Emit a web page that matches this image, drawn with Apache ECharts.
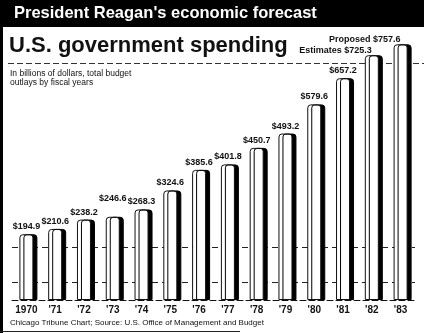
<!DOCTYPE html>
<html><head><meta charset="utf-8">
<script src="https://cdn.jsdelivr.net/npm/echarts@6/dist/echarts.min.js"></script>
<style>html,body{margin:0;padding:0;background:#fff}#c{width:424px;height:333px}</style>
</head><body><div id="c"></div>
<script>
// ---- data ----
const years = ['1970', "'71", "'72", "'73", "'74", "'75", "'76", "'77", "'78", "'79", "'80", "'81", "'82", "'83"];
const outlays = [194.9, 210.6, 238.2, 246.6, 268.3, 324.6, 385.6, 401.8, 450.7, 493.2, 579.6, 657.2, 725.3, 757.6];
const labelPrefixes = ['', '', '', '', '', '', '', '', '', '', '', '', 'Estimates ', 'Proposed '];
const titleText = 'U.S. government spending';
const bannerText = "President Reagan's economic forecast";
const subtitleLines = ['In billions of dollars, total budget', 'outlays by fiscal years'];
const footerText = 'Chicago Tribune Chart; Source: U.S. Office of Management and Budget';

// ---- layout-only tweaks for label placement ----
const labelShiftX = [-4, -2, -1.5, -5, 1.5, -4, 1, 3, 0, 1, 0, -2, 11, 12];
const labelGap = [3, 3, 3, 14, 3, 3, 3, 3, 3, 3, 3, 3, 0, 0];
const rightAligned = [false, false, false, false, false, false, false, false, false, false, false, false, true, true];

const FONT = '"Liberation Sans", Arial, Helvetica, sans-serif';

const chart = echarts.init(document.getElementById('c'), null, {renderer: 'canvas'});

const barData = outlays.map((v, i) => ({
  value: v,
  label: rightAligned[i]
    ? {align: 'right', offset: [labelShiftX[i], 0], distance: labelGap[i]}
    : {offset: [labelShiftX[i], 0], distance: labelGap[i]}
}));

chart.setOption({
  animation: false,
  backgroundColor: '#ffffff',
  grid: {left: 12, right: 9, top: 30, bottom: 33, containLabel: false},
  xAxis: {
    type: 'category',
    data: years,
    axisLine: {show: true, lineStyle: {color: '#111', width: 1, type: [6, 3]}},
    axisTick: {show: false},
    axisLabel: {interval: 0, color: '#111', fontSize: 10, fontWeight: 'bold', fontFamily: FONT, margin: 5}
  },
  yAxis: {
    type: 'value', min: 0, max: 800, show: false,
    splitLine: {show: false}
  },
  series: [{
    type: 'bar',
    data: barData,
    barWidth: 14,
    itemStyle: {
      color: '#ffffff',
      borderColor: '#111',
      borderWidth: 1,
      borderRadius: [3, 3, 0, 0],
      shadowColor: '#000',
      shadowBlur: 0,
      shadowOffsetX: 4,
      shadowOffsetY: 0
    },
    label: {
      show: true,
      position: 'top',
      distance: 3,
      color: '#111',
      fontSize: 9,
      fontWeight: 'bold',
      fontFamily: FONT,
      formatter: p => labelPrefixes[p.dataIndex] + '$' + p.value.toFixed(1)
    },
    labelLayout: {hideOverlap: false},
    markLine: {
      silent: true,
      symbol: 'none',
      label: {show: false},
      lineStyle: {color: '#222', width: 1, type: [6, 4]},
      data: [{yAxis: 157}, {yAxis: 53}],
      z: 1
    },
    z: 3
  }],
  graphic: [
    {type: 'rect', left: 0, top: 0, shape: {width: 424, height: 27}, style: {fill: '#000'}, z: 10},
    {type: 'text', left: 14, top: 5, style: {text: bannerText, fill: '#fff', font: 'bold 16.5px ' + FONT}, z: 11},
    {type: 'text', left: 9, top: 35, style: {text: titleText, fill: '#111', font: 'bold 22px ' + FONT}, z: 11},
    {type: 'line', shape: {x1: 8, y1: 63.5, x2: 424, y2: 63.5}, style: {stroke: '#333', lineWidth: 1, lineDash: [6, 3]}, z: 1},
    {type: 'text', left: 10, top: 69, style: {text: subtitleLines[0], fill: '#111', font: '8.5px ' + FONT}, z: 11},
    {type: 'text', left: 10, top: 78, style: {text: subtitleLines[1], fill: '#111', font: '8.5px ' + FONT}, z: 11},
    {type: 'text', left: 10, top: 319, style: {text: footerText, fill: '#111', font: '8px ' + FONT}, z: 11},
    {type: 'rect', left: 0, top: 0, shape: {width: 3, height: 333}, style: {fill: '#000'}, z: 10},
    {type: 'line', shape: {x1: 0, y1: 331.5, x2: 240, y2: 331.5}, style: {stroke: '#222', lineWidth: 1}, z: 10}
  ]
});
</script>
</body></html>
